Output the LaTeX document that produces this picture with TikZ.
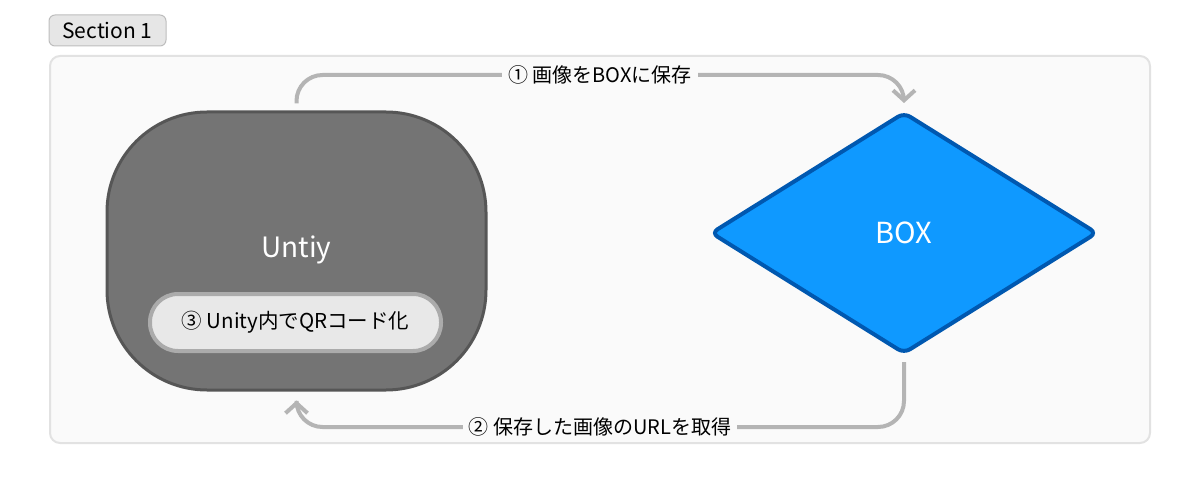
\documentclass[tikz,border=0pt]{standalone}
\usepackage{fontspec}
\setmainfont{Noto Sans CJK JP}
\usetikzlibrary{shapes.geometric,arrows.meta}
\definecolor{panelbg}{HTML}{FAFAFA}
\definecolor{panelborder}{HTML}{E2E2E2}
\definecolor{tabbg}{HTML}{E6E6E6}
\definecolor{tabborder}{HTML}{BDBDBD}
\definecolor{unityfill}{HTML}{747474}
\definecolor{unityborder}{HTML}{565656}
\definecolor{pillfill}{HTML}{E8E8E8}
\definecolor{pillborder}{HTML}{ABABAB}
\definecolor{boxfill}{HTML}{0F99FF}
\definecolor{boxborder}{HTML}{0058B0}
\definecolor{conncol}{HTML}{B4B4B4}
\tikzset{
  x=1pt,y=1pt,
  conn/.style={draw=conncol,line width=4pt,rounded corners=26pt,
    -{Straight Barb[length=10pt,width=22pt,line width=4pt]}},
  lbl/.style={fill=panelbg,inner sep=6pt,font=\fontsize{20}{24}\selectfont,text=black},
  bigtext/.style={font=\fontsize{29}{34}\selectfont,text=white},
}
\begin{document}
\begin{tikzpicture}
\useasboundingbox (0,0) rectangle (1200,-500);
% tab
\node[draw=tabborder,fill=tabbg,line width=1pt,rounded corners=6pt,
  minimum width=117pt,minimum height=31pt,inner sep=0pt,
  font=\fontsize{21}{24}\selectfont] (tab) at (107.5,-30.5) {Section 1};
% panel
\node[draw=panelborder,fill=panelbg,line width=2pt,rounded corners=10pt,
  minimum width=1100pt,minimum height=387pt,inner sep=0pt] (panel) at (600,-249.5) {};
% Unity
\node[draw=unityborder,fill=unityfill,line width=3pt,rounded corners=100pt,
  minimum width=379pt,minimum height=278pt,inner sep=0pt] (unity) at (296.5,-251) {};
\node[bigtext,font=\fontsize{28}{32}\selectfont] (unitytxt) at (296.5,-250) {Untiy};
\node[draw=pillborder,fill=pillfill,line width=4pt,rounded corners=28pt,
  minimum width=291pt,minimum height=57pt,inner sep=0pt,
  font=\fontsize{20.5}{24}\selectfont] (pill) at (295.5,-322.5) {③ Unity内でQRコード化};
% BOX
\node[diamond,draw=boxborder,fill=boxfill,line width=4pt,rounded corners=7pt,
  minimum width=385pt,minimum height=240pt,aspect=1.6,inner sep=0pt,outer sep=0pt,
  bigtext] (box) at (904,-233) {BOX};
% connectors
\draw[conn] ([yshift=7pt]unity.north) |- (600,-75) -| ([yshift=10pt]box.north);
\node[lbl] (l1) at (600,-75) {① 画像をBOXに保存};
\draw[conn] ([yshift=-9pt]box.south) |- (600,-427) -| ([yshift=-9pt]unity.south);
\node[lbl] (l2) at (600,-427) {② 保存した画像のURLを取得};
\end{tikzpicture}
\end{document}
